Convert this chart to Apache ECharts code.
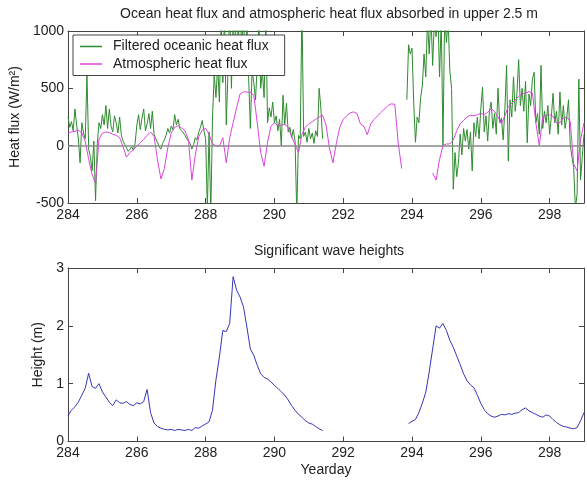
<!DOCTYPE html>
<html>
<head>
<meta charset="utf-8">
<script src="https://cdn.jsdelivr.net/npm/echarts@6/dist/echarts.min.js"></script>
<style>html,body{margin:0;padding:0;background:#fff;}#c{width:587px;height:484px;}</style>
</head>
<body>
<div id="c"></div>
<script>
// ---- Data ----
const xTicks = [284, 286, 288, 290, 292, 294, 296, 298];
const fluxTicks = [-500, 0, 500, 1000];
const heightTicks = [0, 1, 2, 3];

// Filtered oceanic heat flux, W/m^2, sampled every 0.05 day from yearday 284.00
const greenStart = 284, greenStep = 0.05;
const greenFlux = [
  250,160,210,130,320,180,60,-150,200,110,60,620,-30,-100,-220,40,-480,20,200,150,
  270,180,350,150,320,170,120,260,200,110,250,90,40,10,-20,-50,-60,-10,-40,20,
  180,270,140,240,320,130,190,280,150,300,100,60,30,-10,-30,20,50,90,150,110,
  170,140,270,180,230,150,130,110,90,60,40,20,-30,10,70,50,120,160,220,130,
  60,-550,120,-600,250,620,420,700,380,1100,550,1150,180,650,1200,500,1100,800,1200,900,
  1200,850,1150,700,1100,600,150,650,550,400,700,1100,500,650,420,1100,200,330,250,380,
  200,260,130,230,0,440,180,370,120,160,70,140,40,-600,90,60,1200,80,120,30,
  150,60,110,20,130,80,500,330,60,null,null,null,null,null,null,null,null,null,null,null,
  null,null,null,null,null,null,null,null,null,null,null,null,null,null,null,null,null,null,null,null,
  null,null,null,null,null,null,null,null,null,null,null,null,null,null,null,null,null,400,880,800,
  850,370,30,250,200,420,520,800,600,1100,800,1150,700,1100,950,1200,600,1100,0,1150,
  900,1100,650,500,-380,-60,-270,-150,100,-80,150,40,140,-30,120,-220,200,80,250,60,
  320,510,120,260,40,300,380,150,280,100,500,200,240,50,320,700,-135,400,250,600,
  300,450,750,350,500,300,560,25,450,350,580,640,200,280,100,700,150,300,200,350,
  100,250,456,200,300,100,468,180,350,150,250,400,10,-100,-190,-550,-420,580,-300,-100,
  100
];

// Atmospheric heat flux, W/m^2, sampled every 0.1 day from yearday 284.0
const atmStart = 284, atmStep = 0.1;
const atmFlux = [
  110,120,125,135,110,40,-120,-250,-330,60,
  110,120,115,100,90,70,-10,-100,-60,-35,
  -5,25,55,90,120,80,-120,-290,-200,-20,
  110,160,175,155,130,50,-300,-80,80,135,
  150,100,15,0,-5,70,-150,70,200,330,
  450,470,468,465,440,200,-60,-180,30,170,
  200,170,180,185,160,80,10,-60,100,160,
  190,210,230,250,265,180,-20,-150,20,160,
  230,260,285,295,280,190,170,95,190,230,
  260,290,320,350,365,360,20,-200,null,null,
  null,null,null,null,null,null,-240,-300,-120,0,
  15,15,50,130,190,220,250,265,260,270,
  280,270,290,320,300,250,190,260,340,370,
  400,430,450,460,470,460,200,0,250,265,
  270,255,200,200,240,250,210,-160,-220,50,
  200
];

// Significant wave height, m, sampled every 0.1 day from yearday 284.0
const waveStart = 284, waveStep = 0.1;
const waveHeight = [
  0.45,0.54,0.6,0.68,0.8,0.92,1.18,0.95,0.92,1.0,
  0.86,0.77,0.68,0.62,0.72,0.67,0.66,0.69,0.64,0.62,
  0.67,0.65,0.69,0.9,0.5,0.32,0.26,0.23,0.21,0.2,
  0.21,0.19,0.21,0.2,0.19,0.21,0.19,0.24,0.23,0.27,
  0.3,0.34,0.54,1.06,1.46,1.92,1.9,2.04,2.85,2.62,
  2.5,2.33,1.98,1.6,1.49,1.32,1.17,1.11,1.08,1.03,
  0.97,0.92,0.86,0.8,0.72,0.62,0.54,0.47,0.42,0.36,
  0.32,0.3,0.26,0.22,0.19,null,null,null,null,null,
  null,null,null,null,null,null,null,null,null,null,
  null,null,null,null,null,null,null,null,null,0.31,
  0.35,0.38,0.5,0.66,0.85,1.2,1.6,2.0,1.96,2.04,
  1.92,1.75,1.63,1.48,1.33,1.17,1.05,0.98,0.93,0.8,
  0.66,0.55,0.48,0.44,0.42,0.44,0.47,0.46,0.48,0.47,
  0.49,0.5,0.55,0.58,0.53,0.5,0.47,0.44,0.42,0.46,
  0.44,0.38,0.33,0.29,0.26,0.25,0.23,0.22,0.24,0.36,
  0.5
];

// ---- Build series data ----
function pairs(start, step, vals) {
  return vals.map((v, i) => [+(start + i * step).toFixed(2), v]);
}

const FONT = "'Liberation Sans', Arial, sans-serif";
const TXT = '#222';
const AX = '#444';

function xAx(grid, showLabels, name) {
  return {
    type: 'value', gridIndex: grid, min: 284, max: 299, interval: 2,
    position: showLabels ? 'bottom' : 'top',
    name: name || '', nameLocation: 'middle', nameGap: 22,
    nameTextStyle: { fontFamily: FONT, fontSize: 14, color: TXT },
    axisLine: { show: true, onZero: false, lineStyle: { color: AX, width: 1 } },
    axisTick: { show: true, inside: true, length: 5, lineStyle: { color: AX } },
    axisLabel: {
      show: showLabels, fontFamily: FONT, fontSize: 14, color: TXT, margin: 5,
      formatter: v => (xTicks.indexOf(v) >= 0 ? String(v) : '')
    },
    splitLine: { show: false }
  };
}
function yAx(grid, left, min, max, interval, ticks, name, gap) {
  return {
    type: 'value', gridIndex: grid, min: min, max: max, interval: interval,
    position: left ? 'left' : 'right',
    name: name || '', nameLocation: 'middle', nameGap: gap || 0, nameRotate: 90,
    nameTextStyle: { fontFamily: FONT, fontSize: 14, color: TXT },
    axisLine: { show: true, onZero: false, lineStyle: { color: AX, width: 1 } },
    axisTick: { show: true, inside: true, length: 5, lineStyle: { color: AX } },
    axisLabel: {
      show: left, fontFamily: FONT, fontSize: 14, color: TXT, margin: 4,
      formatter: v => (ticks.indexOf(v) >= 0 ? String(v) : '')
    },
    splitLine: { show: false }
  };
}

const chart = echarts.init(document.getElementById('c'), null, { renderer: 'canvas' });
chart.setOption({
  backgroundColor: '#fff',
  animation: false,
  title: [
    { text: 'Ocean heat flux and atmospheric heat flux absorbed in upper 2.5 m',
      left: 329, textAlign: 'center', top: 7, padding: 0,
      textStyle: { fontFamily: FONT, fontSize: 14, fontWeight: 'normal', color: TXT } },
    { text: 'Significant wave heights',
      left: 329, textAlign: 'center', top: 244, padding: 0,
      textStyle: { fontFamily: FONT, fontSize: 14, fontWeight: 'normal', color: TXT } }
  ],
  grid: [
    { left: 68, top: 31, right: -3, height: 172, containLabel: false },
    { left: 68, top: 268, right: -3, height: 173.5, containLabel: false }
  ],
  legend: {
    data: ['Filtered oceanic heat flux', 'Atmospheric heat flux'],
    orient: 'vertical', left: 73, top: 35,
    padding: [4, 16, 4, 7], itemGap: 2.5,
    itemWidth: 22, itemHeight: 1.5, icon: 'rect',
    backgroundColor: '#fff', borderColor: AX, borderWidth: 1,
    textStyle: { fontFamily: FONT, fontSize: 14, color: TXT, lineHeight: 15, padding: [0, 0, 0, 6] }
  },
  xAxis: [
    xAx(0, true), xAx(0, false),
    xAx(1, true, 'Yearday'), xAx(1, false)
  ],
  yAxis: [
    yAx(0, true, -500, 1000, 500, fluxTicks, 'Heat flux (W/m²)', 44),
    yAx(0, false, -500, 1000, 500, fluxTicks),
    yAx(1, true, 0, 3, 1, heightTicks, 'Height (m)', 19),
    yAx(1, false, 0, 3, 1, heightTicks)
  ],
  series: [
    {
      name: 'Filtered oceanic heat flux', type: 'line', xAxisIndex: 0, yAxisIndex: 0,
      data: pairs(greenStart, greenStep, greenFlux), showSymbol: false, symbol: 'none',
      clip: true, lineStyle: { color: '#2e8b2e', width: 1 }, itemStyle: { color: '#2e8b2e' }, z: 2
    },
    {
      name: 'Atmospheric heat flux', type: 'line', xAxisIndex: 0, yAxisIndex: 0,
      data: pairs(atmStart, atmStep, atmFlux), showSymbol: false, symbol: 'none',
      clip: true, lineStyle: { color: '#dd44dd', width: 1 }, itemStyle: { color: '#dd44dd' }, z: 3,
      markLine: {
        silent: true, symbol: 'none', label: { show: false },
        lineStyle: { color: '#8a8a8a', width: 1.5, type: 'solid' },
        data: [{ yAxis: 0 }]
      }
    },
    {
      name: 'Significant wave height', type: 'line', xAxisIndex: 2, yAxisIndex: 2,
      data: pairs(waveStart, waveStep, waveHeight), showSymbol: false, symbol: 'none',
      clip: true, lineStyle: { color: '#3636b8', width: 1 }, itemStyle: { color: '#3636b8' }
    }
  ]
});
</script>
</body>
</html>
